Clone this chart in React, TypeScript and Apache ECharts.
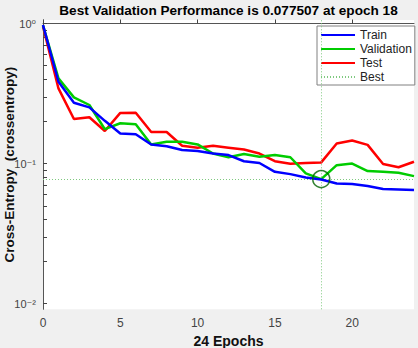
import React, { useEffect, useRef } from "react";
import * as echarts from "echarts";

const epochs = [0, 1, 2, 3, 4, 5, 6, 7, 8, 9, 10, 11, 12, 13, 14, 15, 16, 17, 18, 19, 20, 21, 22, 23, 24];
const train = [0.976, 0.384, 0.272, 0.252, 0.202, 0.164, 0.162, 0.137, 0.133, 0.125, 0.123, 0.118, 0.115, 0.104, 0.101, 0.0874, 0.0841, 0.0797, 0.0769, 0.0722, 0.0714, 0.0691, 0.0658, 0.0654, 0.0647];
const validation = [0.97, 0.406, 0.297, 0.262, 0.176, 0.194, 0.191, 0.137, 0.143, 0.143, 0.137, 0.118, 0.111, 0.117, 0.112, 0.115, 0.111, 0.0851, 0.077507, 0.0975, 0.1, 0.0885, 0.0874, 0.0859, 0.0814];
const test = [0.952, 0.344, 0.208, 0.214, 0.171, 0.23, 0.231, 0.168, 0.168, 0.134, 0.13, 0.134, 0.13, 0.126, 0.118, 0.104, 0.0996, 0.101, 0.102, 0.139, 0.146, 0.136, 0.0994, 0.0941, 0.103];
const bestEpoch = 18;
const bestValue = 0.077507;
const xTicks = [0, 5, 10, 15, 20];
const yDecades = [-2, -1, 0];
const yDecadeLabels = ["10⁻²", "10⁻¹", "10⁰"];

const FONT = "Liberation Sans, Arial, DejaVu Sans, sans-serif";

export default function App() {
  const ref = useRef<HTMLDivElement>(null);
  useEffect(() => {
    if (!ref.current) return;
    const chart = echarts.init(ref.current, undefined, { renderer: "svg" });
    const lg = (v: number) => Math.log10(v);
    const toPts = (arr: number[]) => arr.map((v, i) => [epochs[i], lg(v)]);
    const minorTicks: number[] = [];
    for (const d of yDecades) {
      minorTicks.push(d);
      if (d < 0) for (let k = 2; k <= 9; k++) minorTicks.push(d + Math.log10(k));
    }
    const lineSeries = (name: string, data: number[], color: string, z: number) => ({
      name,
      type: "line",
      data: toPts(data),
      symbol: "none",
      lineStyle: { color, width: 2.5 },
      itemStyle: { color },
      z,
    });
    chart.setOption({
      animation: false,
      backgroundColor: "#f0f0f0",
      textStyle: { fontFamily: FONT },
      grid: {
        left: 43,
        right: 4,
        top: 20,
        bottom: 38.7,
        outerBoundsMode: "none",
        containLabel: false,
        show: true,
        backgroundColor: "#ffffff",
        borderWidth: 0,
        z: 0,
      },
      graphic: [
        {
          type: "text",
          x: 228.5,
          y: 10,
          style: {
            text: `Best Validation Performance is ${bestValue} at epoch ${bestEpoch}`,
            font: `bold 13.6px ${FONT}`,
            fill: "#000",
            textAlign: "center",
            textVerticalAlign: "middle",
          },
        },
      ],
      legend: {
        orient: "vertical",
        left: 317,
        top: 26,
        data: ["Train", "Validation", "Test", "Best"],
        backgroundColor: "#ffffff",
        borderColor: "#808080",
        borderWidth: 1,
        borderRadius: 0,
        padding: [2, 3, 1, 3],
        itemGap: 0,
        itemWidth: 34,
        itemHeight: 10,
        itemStyle: { opacity: 0 },
        textStyle: { fontSize: 12, lineHeight: 14, color: "#222", fontFamily: FONT },
      },
      xAxis: {
        type: "value",
        min: 0,
        max: 24,
        z: 3,
        name: "24 Epochs",
        nameLocation: "middle",
        nameGap: 25,
        nameMoveOverlap: false,
        nameTextStyle: { fontWeight: "bold", fontSize: 14, color: "#111" },
        axisLine: { show: true, lineStyle: { color: "#555", width: 1 } },
        axisTick: { show: true, inside: true, length: 4, customValues: xTicks, lineStyle: { color: "#444" } },
        axisLabel: { customValues: xTicks, fontSize: 12, color: "#444", margin: 8 },
        splitLine: { show: false },
      },
      yAxis: {
        type: "value",
        min: -2.04,
        max: 0.025,
        z: 3,
        name: "Cross-Entropy  (crossentropy)",
        nameLocation: "middle",
        nameGap: 27,
        nameMoveOverlap: false,
        nameTextStyle: { fontWeight: "bold", fontSize: 13.5, color: "#111" },
        axisLine: { show: true, lineStyle: { color: "#555", width: 1 } },
        axisTick: { show: true, inside: true, length: 4, customValues: minorTicks, lineStyle: { color: "#444" } },
        axisLabel: {
          customValues: yDecades,
          margin: 7,
          fontSize: 11,
          color: "#444",
          formatter: (v: number) => yDecadeLabels[yDecades.indexOf(Math.round(v))] ?? "",
        },
        splitLine: { show: false },
      },
      series: [
        lineSeries("Train", train, "#0000ff", 5),
        lineSeries("Validation", validation, "#00cc00", 4),
        lineSeries("Test", test, "#ff0000", 3),
        {
          name: "Best",
          type: "line",
          data: [],
          symbol: "none",
          lineStyle: { color: "#7fc97f", width: 1, type: [1, 2] },
          itemStyle: { color: "#7fc97f" },
          markLine: {
            silent: true,
            symbol: "none",
            label: { show: false },
            lineStyle: { color: "#7fc97f", width: 1, type: [1, 2] },
            data: [{ xAxis: bestEpoch }, { yAxis: lg(bestValue) }],
          },
          z: 1,
        },
        {
          name: "BestCircle",
          type: "scatter",
          data: [[bestEpoch, lg(bestValue)]],
          symbol: "circle",
          symbolSize: 17,
          itemStyle: { color: "rgba(0,0,0,0)", borderColor: "#006400", borderWidth: 1.5 },
          z: 6,
        },
      ],
    });
    return () => chart.dispose();
  }, []);
  return <div ref={ref} style={{ position: "fixed", left: 0, top: 0, width: 418, height: 348 }} />;
}
